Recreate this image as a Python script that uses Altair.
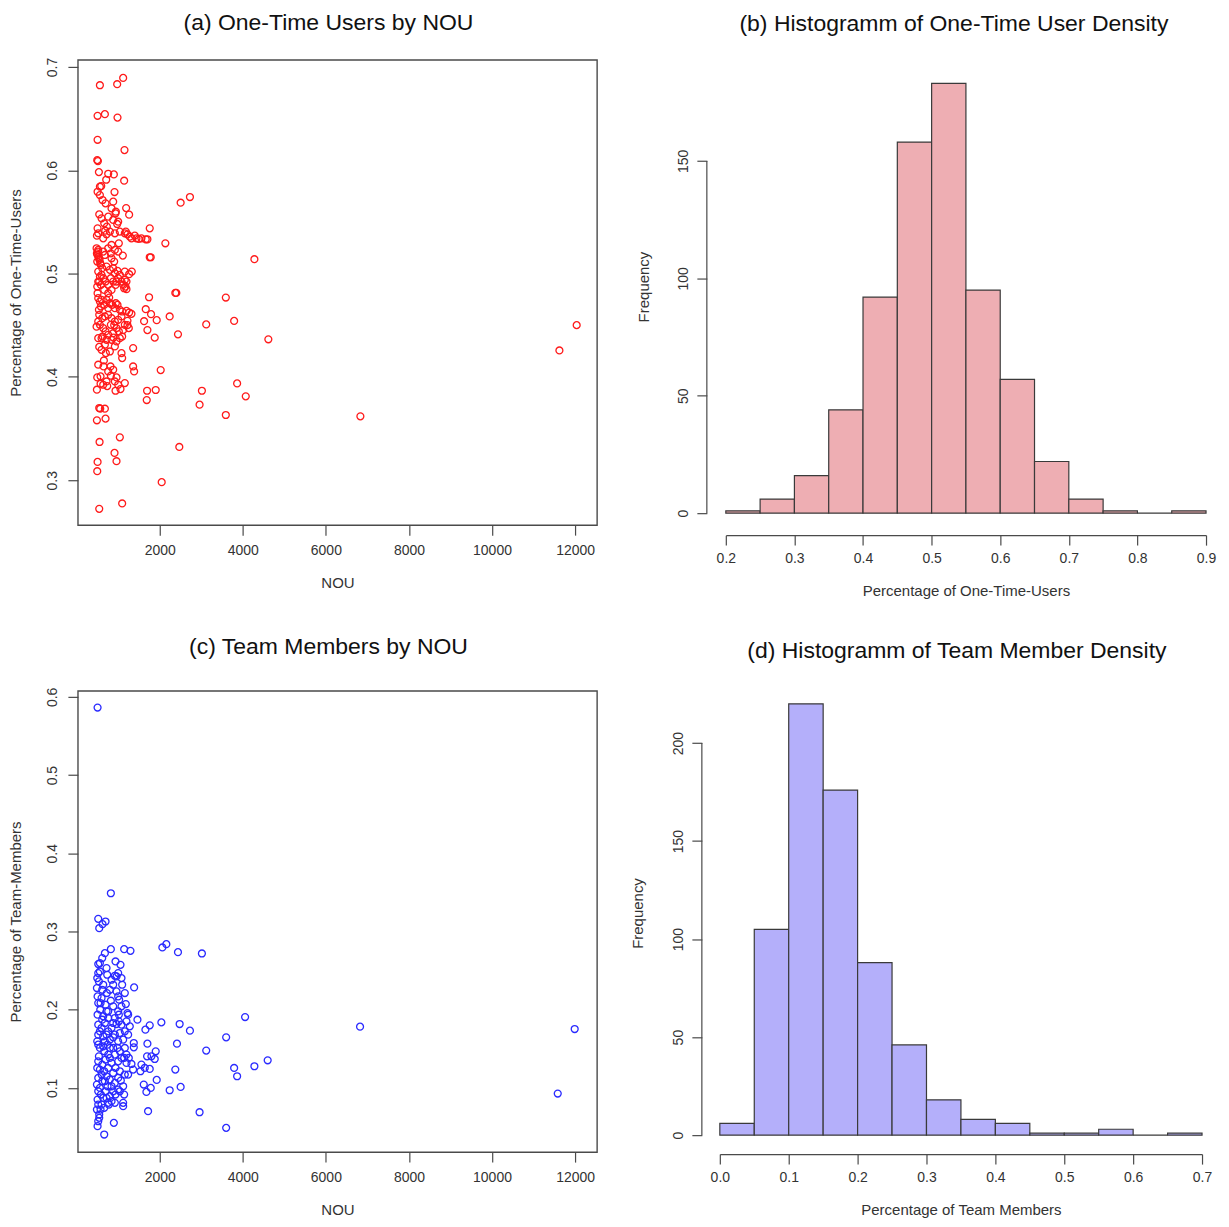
import altair as alt
import pandas as pd

FONT = "Liberation Sans"

# ---------------- (a) One-Time Users by NOU ----------------
nou_a = [559, 975, 1119, 503, 679, 983, 503, 1151, 495, 511, 535, 759, 895, 1143, 591, 559, 503, 911, 711,
         543, 935, 1191, 1263, 2503, 2727, 503, 1759, 687, 719, 975, 1159, 1399, 1495, 1663, 487, 2135, 1015,
         839, 1759, 1783, 1111, 503, 535, 567, 511, 4279, 1327, 983, 879, 1159, 599, 519, 1199, 503, 2375,
         2399, 1743, 3591, 783, 559, 943, 1663, 1319, 1791, 2239, 535, 759, 1623, 1927, 3119, 3791, 479, 903,
         1223, 1703, 2439, 1879, 4615, 599, 1119, 887, 543, 1359, 799, 1079, 1095, 655, 647, 815, 1359, 1383,
         2023, 495, 575, 823, 959, 575, 1159, 3863, 487, 735, 935, 1055, 1695, 1903, 3015, 4071, 1687, 2959,
         543, 567, 679, 3591, 487, 695, 1039, 551, 2471, 911, 959, 503, 495, 2047, 1095, 543, 11623, 12039,
         6831,
         599, 663, 727, 799, 879, 919, 519, 639, 759, 839, 695, 623, 559, 879, 943, 999, 1039, 1183, 1223,
         1279, 1319, 1439, 1559, 1703, 479, 519, 487, 527, 551, 495, 583, 639, 679, 759, 823, 839, 919, 903,
         999, 615, 719, 799, 879, 519, 559, 639, 695, 759, 823, 919, 959, 999, 1039, 1079, 1119, 1143, 1175,
         583, 663, 759, 839, 935, 495, 543, 1263, 1199, 1159, 519, 599, 663, 719, 799, 855, 919, 983, 1039,
         1095, 583, 543, 615, 679, 759, 839, 919, 999, 1079, 1199, 1263, 519, 559, 639, 695, 759, 823, 879,
         959, 1015, 1095, 1159, 1223, 1255, 623, 719, 839, 959, 1039, 519, 679, 919, 599, 703, 759, 879, 919,
         719, 999, 639, 519]
otu_a = [0.6823, 0.6833, 0.6894, 0.6527, 0.6543, 0.6510, 0.6295, 0.6195, 0.6098, 0.6089, 0.5982, 0.5966,
         0.5960, 0.5899, 0.5847, 0.5841, 0.5792, 0.5789, 0.5908, 0.5573, 0.5583, 0.5634, 0.5570, 0.5686,
         0.5741, 0.5438, 0.5438, 0.5415, 0.5380, 0.5480, 0.5390, 0.5367, 0.5335, 0.5332, 0.5367, 0.5293,
         0.5293, 0.5277, 0.5158, 0.5158, 0.5174, 0.5180, 0.5148, 0.5100, 0.5212, 0.5139, 0.5019, 0.5026,
         0.4923, 0.4939, 0.4987, 0.4923, 0.4849, 0.4810, 0.4813, 0.4813, 0.4771, 0.4768, 0.4768, 0.4729,
         0.4713, 0.4655, 0.4610, 0.4607, 0.4585, 0.4649, 0.4665, 0.4539, 0.4549, 0.4508, 0.4542, 0.4486,
         0.4501, 0.4501, 0.4453, 0.4412, 0.4380, 0.4364, 0.4373, 0.4453, 0.4380, 0.4290, 0.4279, 0.4246,
         0.4230, 0.4182, 0.4159, 0.4101, 0.4101, 0.4101, 0.4053, 0.4066, 0.3995, 0.4005, 0.4011, 0.3995,
         0.3934, 0.3940, 0.3937, 0.3876, 0.3911, 0.3866, 0.3882, 0.3866, 0.3873, 0.3866, 0.3812, 0.3776,
         0.3731, 0.3699, 0.3692, 0.3692, 0.3631, 0.3580, 0.3596, 0.3415, 0.3370, 0.3322, 0.3264, 0.3184,
         0.3177, 0.3087, 0.2981, 0.2775, 0.2723, 0.4256, 0.4501, 0.3618,
         0.5535, 0.5486, 0.5454, 0.5406, 0.5519, 0.5390, 0.5390, 0.5341, 0.5551, 0.5631, 0.5680, 0.5712,
         0.5760, 0.5696, 0.5599, 0.5502, 0.5406, 0.5406, 0.5380, 0.5357, 0.5341, 0.5341, 0.5341, 0.5332,
         0.5245, 0.5229, 0.5196, 0.5164, 0.5132, 0.5116, 0.5084, 0.5213, 0.5180, 0.5245, 0.5196, 0.5148,
         0.5229, 0.5116, 0.5213, 0.5052, 0.5068, 0.5036, 0.5052, 0.5019, 0.4971, 0.4955, 0.4923, 0.4890,
         0.4955, 0.5003, 0.4923, 0.4955, 0.4987, 0.4923, 0.4890, 0.4858, 0.4874, 0.4890, 0.4842, 0.4810,
         0.4842, 0.4890, 0.4874, 0.4923, 0.4994, 0.4923, 0.5019, 0.4762, 0.4746, 0.4697, 0.4746, 0.4713,
         0.4697, 0.4665, 0.4697, 0.4649, 0.4633, 0.4681, 0.4601, 0.4568, 0.4585, 0.4601, 0.4568, 0.4536,
         0.4552, 0.4585, 0.4639, 0.4623, 0.4536, 0.4504, 0.4472, 0.4440, 0.4407, 0.4504, 0.4423, 0.4472,
         0.4440, 0.4391, 0.4504, 0.4543, 0.4472, 0.4391, 0.4359, 0.4359, 0.4343, 0.4375, 0.4375, 0.4311,
         0.4295, 0.4262, 0.4230, 0.4053, 0.4069, 0.3956, 0.3956, 0.3924, 0.3924, 0.4118]

# ---------------- (c) Team Members by NOU ----------------
nou_c = [503, 823, 519, 695, 623, 543, 2063, 2159, 2439, 3015, 823, 1143, 1295, 679, 559, 519, 935, 1055,
         615, 519, 735, 919, 959, 1079, 495, 535, 639, 879, 1095, 1383, 487, 727, 503, 599, 999, 1023, 823,
         575, 1183, 1223, 1239, 759, 999, 567, 1463, 4055, 2039, 2479, 1759, 1655, 2727, 3599, 6823, 11991,
         1279, 959, 519, 599, 679, 759, 839, 519, 639, 799, 919, 1039, 1159, 1375, 1375, 2415, 1703, 3119,
         1903, 1799, 1879, 4599, 495, 559, 663, 759, 983, 1079, 1199, 519, 615, 839, 935, 1319, 1639, 1759,
         2375, 3791, 4279, 3863, 1359, 1239, 1927, 1615, 1679, 1783, 2239, 2503, 11583, 1719, 2959, 3599,
         503, 663, 895, 1119, 1119, 759, 543, 575, 599, 503, 519, 487, 679, 839, 935, 1039, 1119, 1143, 599,
         719, 999, 879, 559, 799, 679, 919, 1159, 1255, 639, 799, 519, 543, 839, 1015, 919, 1015, 719, 503,
         639, 1559, 1695, 1535, 695,
         559, 719, 839, 999, 615, 799, 959, 1159, 519, 695, 879, 1079, 615, 759, 879, 1079, 1199, 559, 719,
         879, 999, 1119, 1239, 519, 639, 743, 879, 1039, 1143, 535, 695, 799, 999, 1199, 495, 663, 759, 1039,
         1159, 519, 615, 799, 919, 1063, 559, 743, 879, 999, 583, 719, 519, 663, 487, 775, 919]
tm_c = [0.5864, 0.3489, 0.3162, 0.3128, 0.3094, 0.3043, 0.2796, 0.2838, 0.2736, 0.2719, 0.2774, 0.2774,
        0.2753, 0.2723, 0.2596, 0.2583, 0.2617, 0.2574, 0.2660, 0.2468, 0.2447, 0.2434, 0.2426, 0.2404,
        0.2404, 0.2362, 0.2319, 0.2319, 0.2319, 0.2285, 0.2277, 0.2213, 0.2170, 0.2149, 0.2170, 0.2128,
        0.2115, 0.2085, 0.2072, 0.1957, 0.1936, 0.1979, 0.1979, 0.2000, 0.1872, 0.1906, 0.1838, 0.1817,
        0.1800, 0.1745, 0.1732, 0.1647, 0.1783, 0.1753, 0.1787, 0.1817, 0.1809, 0.1766, 0.1830, 0.1723,
        0.1766, 0.1681, 0.1660, 0.1617, 0.1681, 0.1702, 0.1723, 0.1574, 0.1519, 0.1566, 0.1566, 0.1477,
        0.1468, 0.1404, 0.1370, 0.1353, 0.1596, 0.1511, 0.1468, 0.1426, 0.1511, 0.1383, 0.1426, 0.1340,
        0.1298, 0.1319, 0.1255, 0.1306, 0.1255, 0.1243, 0.1234, 0.1255, 0.1277, 0.1149, 0.1234, 0.1170,
        0.1102, 0.1043, 0.0949, 0.1000, 0.0970, 0.1013, 0.0928, 0.0702, 0.0689, 0.0489, 0.0511, 0.0404,
        0.0553, 0.0766, 0.0809, 0.0809, 0.0660, 0.0723, 0.0787, 0.0851, 0.0957, 0.1043, 0.1085, 0.1021,
        0.0915, 0.0957, 0.1021, 0.0915, 0.1170, 0.1149, 0.1128, 0.1191, 0.1234, 0.1511, 0.1596, 0.1426,
        0.1511, 0.1383, 0.0872, 0.0894, 0.0574, 0.0617, 0.0830, 0.1936, 0.1894, 0.1851, 0.1979, 0.1936,
        0.1915, 0.1298, 0.1404, 0.1213, 0.0957,
        0.2489, 0.2532, 0.2383, 0.2468, 0.2255, 0.2255, 0.2234, 0.2213, 0.2085, 0.2064, 0.2043, 0.2043,
        0.1872, 0.1894, 0.1830, 0.1809, 0.1851, 0.1723, 0.1681, 0.1647, 0.1596, 0.1617, 0.1681, 0.1553,
        0.1532, 0.1553, 0.1511, 0.1468, 0.1383, 0.1404, 0.1362, 0.1383, 0.1340, 0.1319, 0.1255, 0.1213,
        0.1255, 0.1213, 0.1170, 0.1128, 0.1085, 0.1106, 0.1064, 0.1094, 0.1000, 0.1021, 0.0957, 0.0979,
        0.0915, 0.0872, 0.0787, 0.0745, 0.0723, 0.0787, 0.0809]

# ---------------- histograms ----------------
otu_bin_start = [0.20, 0.25, 0.30, 0.35, 0.40, 0.45, 0.50, 0.55, 0.60, 0.65, 0.70, 0.75, 0.80, 0.85]
otu_counts = [1, 6, 16, 44, 92, 158, 183, 95, 57, 22, 6, 1, 0, 1]
tm_bin_start = [0.00, 0.05, 0.10, 0.15, 0.20, 0.25, 0.30, 0.35, 0.40, 0.45, 0.50, 0.55, 0.60, 0.65]
tm_counts = [6, 105, 220, 176, 88, 46, 18, 8, 6, 1, 1, 3, 0, 1]
BIN_W = 0.05

nou_ticks = [2000, 4000, 6000, 8000, 10000, 12000]
otu_ticks = [0.3, 0.4, 0.5, 0.6, 0.7]
tm_ticks = [0.1, 0.2, 0.3, 0.4, 0.5, 0.6]

df_a = pd.DataFrame({"NOU": nou_a, "p": otu_a})
df_c = pd.DataFrame({"NOU": nou_c, "p": tm_c})
df_b = pd.DataFrame({"start": otu_bin_start, "count": otu_counts})
df_b["end"] = df_b["start"] + BIN_W
df_d = pd.DataFrame({"start": tm_bin_start, "count": tm_counts})
df_d["end"] = df_d["start"] + BIN_W

INK = "#333333"
LINE = "#4a4a4a"

def ax(**kw):
    base = dict(grid=False, tickColor=LINE, tickWidth=1.2, tickSize=10, labelFlush=False,
                labelFont=FONT, labelFontSize=14, labelColor=INK,
                titleFont=FONT, titleFontSize=15, titleFontWeight="normal", titleColor=INK)
    base.update(kw)
    return alt.Axis(**base)

def ttl(text, offset, dx):
    return alt.TitleParams(text, font=FONT, fontSize=23, fontWeight="normal", color="#111111",
                           offset=offset, dx=dx, anchor="middle")

frame = alt.ViewBackground(stroke=LINE, strokeWidth=1.4)
noframe = alt.ViewBackground(stroke="transparent", strokeWidth=0)

def scatter(df, color, ydom, yticks, ytitle, title, h, toff):
    return alt.Chart(df).mark_point(shape="circle", filled=False, color=color, size=48,
                                    strokeWidth=1.3, opacity=1).encode(
        x=alt.X("NOU:Q", scale=alt.Scale(domain=[29, 12529], nice=False, zero=False),
                axis=ax(values=nou_ticks, format="d", title="NOU", domain=False,
                        labelPadding=8, titlePadding=18)),
        y=alt.Y("p:Q", scale=alt.Scale(domain=ydom, nice=False, zero=False),
                axis=ax(values=yticks, format=".1f", title=ytitle, domain=False, labelAngle=-90,
                        labelAlign="center", labelBaseline="bottom", labelPadding=8,
                        titlePadding=22)),
    ).properties(width=520, height=h, view=frame, title=ttl(title, toff, -9))

def hist(df, fill, xdom, xticks, xtitle, ymax, yticks, title, w, h, xoff, yoff, toff, dx, ytp):
    yaxis = ax(values=yticks, format="d", title="Frequency", domain=False, offset=yoff,
               labelAngle=-90, labelAlign="center", labelBaseline="bottom",
               labelPadding=6, titlePadding=ytp)
    yscale = alt.Scale(domain=[0, ymax], nice=False, zero=True)
    bars = alt.Chart(df).mark_rect(fill=fill, stroke="#3a3a3a", strokeWidth=1.2).encode(
        x=alt.X("start:Q", scale=alt.Scale(domain=xdom, nice=False, zero=False),
                axis=ax(values=xticks, format=".1f", title=xtitle, domain=True, domainColor=LINE,
                        domainWidth=1.2, offset=xoff, labelPadding=6, titlePadding=18)),
        x2="end:Q",
        y=alt.Y("count:Q", scale=yscale, axis=yaxis),
        y2=alt.datum(0),
    )
    yline = alt.Chart(pd.DataFrame({"lo": [yticks[0]], "hi": [yticks[-1]]})).mark_rule(
        color=LINE, strokeWidth=1.2).encode(
        x=alt.value(-yoff),
        y=alt.Y("lo:Q", scale=yscale, axis=yaxis),
        y2="hi:Q",
    )
    return alt.layer(bars, yline).properties(width=w, height=h, view=noframe,
                                              title=ttl(title, toff, dx))

pa = scatter(df_a, "#ff1a1a", [0.2565, 0.7068], otu_ticks, "Percentage of One-Time-Users",
             "(a) One-Time Users by NOU", 466, 22)
pc = scatter(df_c, "#2a2aff", [0.0179, 0.6077], tm_ticks, "Percentage of Team-Members",
             "(c) Team Members by NOU", 462, 28)
pb = hist(df_b, "#EEAEB3", [0.2, 0.9], [0.2, 0.3, 0.4, 0.5, 0.6, 0.7, 0.8, 0.9],
          "Percentage of One-Time-Users", 193, [0, 50, 100, 150],
          "(b) Histogramm of One-Time User Density", 481, 454, 22, 19, 24, -12, 25)
pd_ = hist(df_d, "#B4AFFA", [0.0, 0.7], [0.0, 0.1, 0.2, 0.3, 0.4, 0.5, 0.6, 0.7],
           "Percentage of Team Members", 226.6, [0, 50, 100, 150, 200],
           "(d) Histogramm of Team Member Density", 483, 445, 19, 18, 28, -4, 26)

row1 = alt.hconcat(pa, pb, spacing=129, bounds="flush")
row2 = alt.hconcat(pc, pd_, spacing=123, bounds="flush")
chart = alt.vconcat(row1, row2, spacing=37).properties(
    padding={"left": 0, "top": 2, "right": 5, "bottom": 5}
).configure_view(stroke="transparent", strokeWidth=0).configure(background="white")

chart.save("out.html", embed_options={"renderer": "svg", "actions": False})
